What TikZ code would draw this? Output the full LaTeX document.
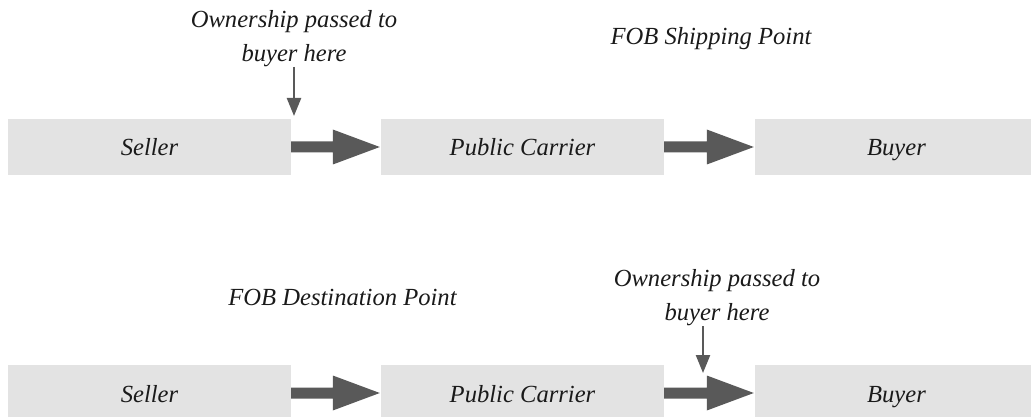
\documentclass[tikz,border=0pt]{standalone}
\usepackage{fontspec}
\setmainfont{Liberation Serif}
\usetikzlibrary{arrows.meta,calc}

\definecolor{boxgray}{HTML}{E3E3E3}
\definecolor{arrowgray}{HTML}{595959}
\definecolor{inkcol}{HTML}{1A1A1A}

\tikzset{
  stage/.style={rectangle, fill=boxgray, inner sep=0pt,
    minimum width=283pt, minimum height=56pt,
    text height=18pt, text depth=0pt, text=inkcol,
    font=\fontsize{24.6}{34}\selectfont\itshape},
  caption/.style={inner sep=0pt, text=inkcol, align=center,
    font=\fontsize{24.6}{34}\selectfont\itshape},
  pointer/.style={draw=arrowgray, line width=2.4pt,
    -{Triangle[width=14pt,length=18pt]}},
}

% fat block arrow from the east side of #1 to the west side of #2
\newcommand\blockarrow[2]{%
  \fill[arrowgray] let \p1=(#1.east), \p2=(#2.west) in
    (\x1,\y1+5.5pt) -- (\x2-48pt,\y1+5.5pt) -- (\x2-48pt,\y1+17.5pt)
    -- (\x2-1pt,\y1) -- (\x2-48pt,\y1-17.5pt) -- (\x2-48pt,\y1-5.5pt)
    -- (\x1,\y1-5.5pt) -- cycle;}

\begin{document}
\begin{tikzpicture}[x=1pt,y=-1pt]
\useasboundingbox (0,0) rectangle (1031,417);
\clip (0,0) rectangle (1031,417);

% FOB shipping point
\node[caption, anchor=base] (shipt) at (711,45) {FOB Shipping Point};
\node[stage] (s1) at (149.5,147) {Seller};
\node[stage] (c1) at (522.5,147) {Public Carrier};
\node[stage] (b1) at (896.5,147) {Buyer};
\blockarrow{s1}{c1}
\blockarrow{c1}{b1}
\node[caption, anchor=south] (own1) at (294,67) {Ownership passed to\\buyer here};
\coordinate (tip1) at (294,116);
\draw[pointer] (own1.south -| tip1) -- (tip1);

% FOB destination point
\node[caption, anchor=base] (destt) at (342.5,305) {FOB Destination Point};
\node[stage] (s2) at (149.5,393) {Seller};
\node[stage] (c2) at (522.5,393) {Public Carrier};
\node[stage] (b2) at (896.5,393) {Buyer};
\blockarrow{s2}{c2}
\blockarrow{c2}{b2}
\node[caption, anchor=south] (own2) at (717,326) {Ownership passed to\\buyer here};
\coordinate (tip2) at (703,373);
\draw[pointer] (own2.south -| tip2) -- (tip2);
\end{tikzpicture}
\end{document}
